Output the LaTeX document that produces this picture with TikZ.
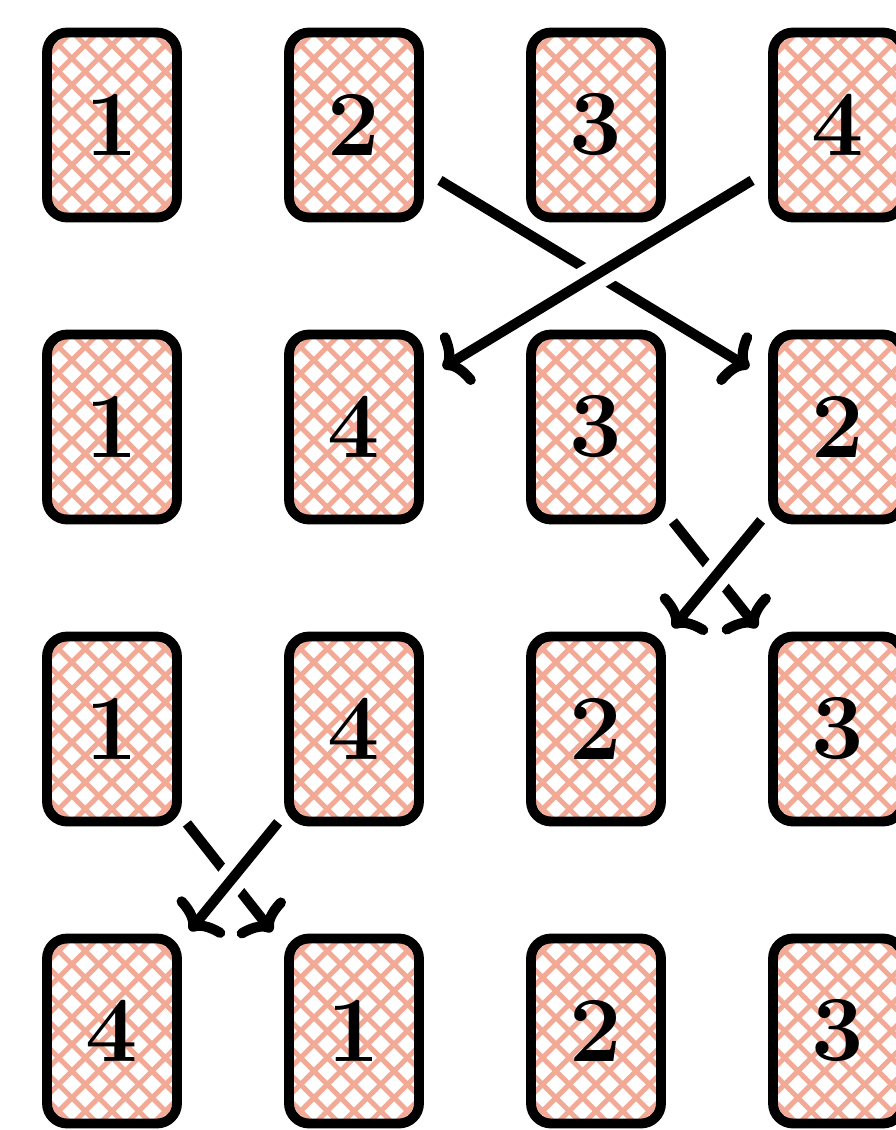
\documentclass[tikz,border=0pt]{standalone}
\usetikzlibrary{arrows.meta}
\definecolor{hatchpink}{RGB}{242,170,150}

\begin{document}
\begin{tikzpicture}[x=0.02cm, y=-0.02cm,
    hatch/.style={draw=hatchpink, line width=0.1cm},
    card/.style={draw, line width=5.6pt, rounded corners=0.4cm,
        minimum width=2.6cm, minimum height=3.7cm, inner sep=0pt,
        font=\fontsize{53}{60}\selectfont\bfseries,
        path picture={
            \foreach \k in {-8,...,8} {
                \draw[hatch] ([shift={(\k*26.7-160,-160)}]path picture bounding box.center) -- ++(320,320);
                \draw[hatch] ([shift={(\k*26.7-160,160)}]path picture bounding box.center) -- ++(320,-320);
            }
        }},
    swap/.style={line width=5.8pt, -{To[length=0.45cm, width=1.2cm, round]}},
    over/.style={preaction={draw=white, line width=0.6cm, -, shorten <=#1, shorten >=#1}}
    ]

    \useasboundingbox (0,0) rectangle (896,1130);

    % Define cards
    \node[card] (c11) at (112,125) {1};
    \node[card] (c12) at (354,125) {2};
    \node[card] (c13) at (596,125) {3};
    \node[card] (c14) at (838,125) {4};

    \node[card] (c21) at (112,427) {1};
    \node[card] (c22) at (354,427) {4};
    \node[card] (c23) at (596,427) {3};
    \node[card] (c24) at (838,427) {2};

    \node[card] (c31) at (112,729) {1};
    \node[card] (c32) at (354,729) {4};
    \node[card] (c33) at (596,729) {2};
    \node[card] (c34) at (838,729) {3};

    \node[card] (c41) at (112,1031) {4};
    \node[card] (c42) at (354,1031) {1};
    \node[card] (c43) at (596,1031) {2};
    \node[card] (c44) at (838,1031) {3};

    % Draw swaps
    \draw[swap] ([shift={(16,-42)}]c12.south east) -- ([shift={(-19,38)}]c24.north west);
    \draw[swap, over=3cm] ([shift={(-16,-42)}]c14.south west) -- ([shift={(19,38)}]c22.north east);

    \draw[swap] ([shift={(7,-3)}]c23.south east) -- ([shift={(-11,-4)}]c34.north west);
    \draw[swap, over=1cm] ([shift={(-7,-4)}]c24.south west) -- ([shift={(7,-4)}]c33.north east);

    \draw[swap] ([shift={(5,-3)}]c31.south east) -- ([shift={(-12,-2)}]c42.north west);
    \draw[swap, over=1cm] ([shift={(-6,-4)}]c32.south west) -- ([shift={(8,-3)}]c41.north east);

\end{tikzpicture}
\end{document}
